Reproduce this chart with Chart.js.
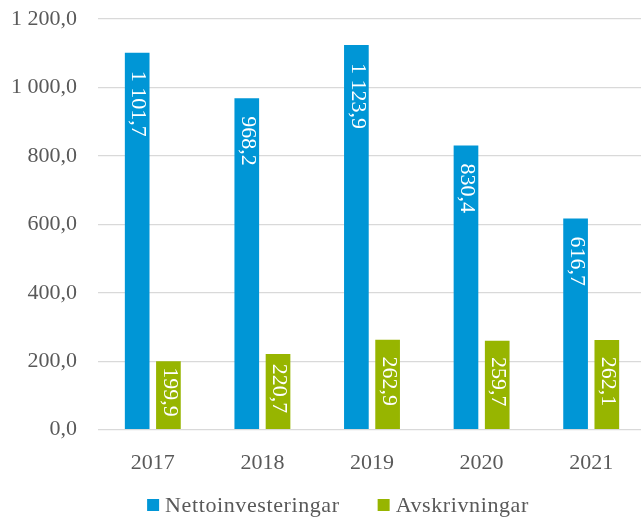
<!DOCTYPE html>
<html>
<head>
<meta charset="utf-8">
<script src="https://cdn.jsdelivr.net/npm/chart.js@4"></script>
<style>
  html, body { margin: 0; padding: 0; background: #fff; overflow: hidden; }
  #wrap { width: 648px; height: 522px; }
</style>
</head>
<body>
<div id="wrap"><canvas id="invChart" width="648" height="522"></canvas></div>
<script>
// chart values
const years = ["2017", "2018", "2019", "2020", "2021"];
const netto = [1101.7, 968.2, 1123.9, 830.4, 616.7];
const avskr = [199.9, 220.7, 262.9, 259.7, 262.1];

const textColor = "#595959";
const serif = "'Liberation Serif', 'DejaVu Serif', serif";

// swedish style number: 1 101,7
function fmt(v) {
  const parts = v.toFixed(1).split(".");
  parts[0] = parts[0].replace(/\B(?=(\d{3})+(?!\d))/g, " ");
  return parts.join(",");
}

// white rotated labels inside bar top
const barLabels = {
  id: "barLabels",
  afterDatasetsDraw(chart) {
    const ctx = chart.ctx;
    ctx.save();
    ctx.font = "22px " + serif;
    ctx.fillStyle = "#ffffff";
    ctx.textAlign = "left";
    ctx.textBaseline = "middle";
    chart.data.datasets.forEach((ds, i) => {
      const meta = chart.getDatasetMeta(i);
      meta.data.forEach((bar, j) => {
        const p = bar.getProps(["x", "y", "base"], true);
        const txt = fmt(ds.data[j]);
        const w = ctx.measureText(txt).width;
        const h = p.base - p.y;
        const gap = Math.min(18, Math.max(4, (h - w) / 2 - 3));
        ctx.save();
        ctx.translate(p.x + 1, p.y + gap);
        ctx.rotate(Math.PI / 2);
        ctx.fillText(txt, 0, 0);
        ctx.restore();
      });
    });
    ctx.restore();
  }
};

// legend below the axis, drawn by hand for spacing control
const bottomLegend = {
  id: "bottomLegend",
  afterDraw(chart) {
    const ctx = chart.ctx;
    const box = 12, textGap = 6, itemGap = 38;
    ctx.save();
    ctx.font = "22px " + serif;
    if ("letterSpacing" in ctx) ctx.letterSpacing = "0.6px";
    const items = chart.data.datasets.map(ds => ({
      text: ds.label,
      color: ds.backgroundColor,
      w: ctx.measureText(ds.label).width
    }));
    let total = 0;
    items.forEach((it, k) => { total += box + textGap + it.w + (k ? itemGap : 0); });
    let x = chart.width / 2 + 14 - total / 2;
    const y = chart.height - 17;
    ctx.textBaseline = "middle";
    ctx.textAlign = "left";
    items.forEach(it => {
      ctx.fillStyle = it.color;
      ctx.fillRect(x, y - box / 2, box, box);
      ctx.fillStyle = textColor;
      ctx.fillText(it.text, x + box + textGap, y + 1);
      x += box + textGap + it.w + itemGap;
    });
    ctx.restore();
  }
};

new Chart(document.getElementById("invChart").getContext("2d"), {
  type: "bar",
  data: {
    labels: years,
    datasets: [
      {
        label: "Nettoinvesteringar",
        data: netto,
        backgroundColor: "#0096D6",
        barPercentage: 0.79,
        categoryPercentage: 0.57
      },
      {
        label: "Avskrivningar",
        data: avskr,
        backgroundColor: "#97B500",
        barPercentage: 0.79,
        categoryPercentage: 0.57
      }
    ]
  },
  options: {
    responsive: false,
    animation: false,
    layout: { padding: { left: 0, right: 2, top: 19, bottom: 26 } },
    plugins: {
      legend: { display: false },
      tooltip: { enabled: false }
    },
    scales: {
      x: {
        grid: { display: false, drawTicks: false },
        border: { display: false },
        ticks: { color: textColor, padding: 20, font: { family: serif, size: 22 } }
      },
      y: {
        min: 0,
        max: 1200,
        afterFit: axis => {
          axis.width = 98;
          axis.paddingTop = 13;
          axis.paddingBottom = 13;
        },
        grid: { color: "#d9d9d9", lineWidth: 1.3, drawTicks: false },
        border: { display: false },
        ticks: {
          stepSize: 200,
          padding: 21,
          color: textColor,
          font: { family: serif, size: 22 },
          callback: v => fmt(v)
        }
      }
    }
  },
  plugins: [barLabels, bottomLegend]
});
</script>
</body>
</html>
